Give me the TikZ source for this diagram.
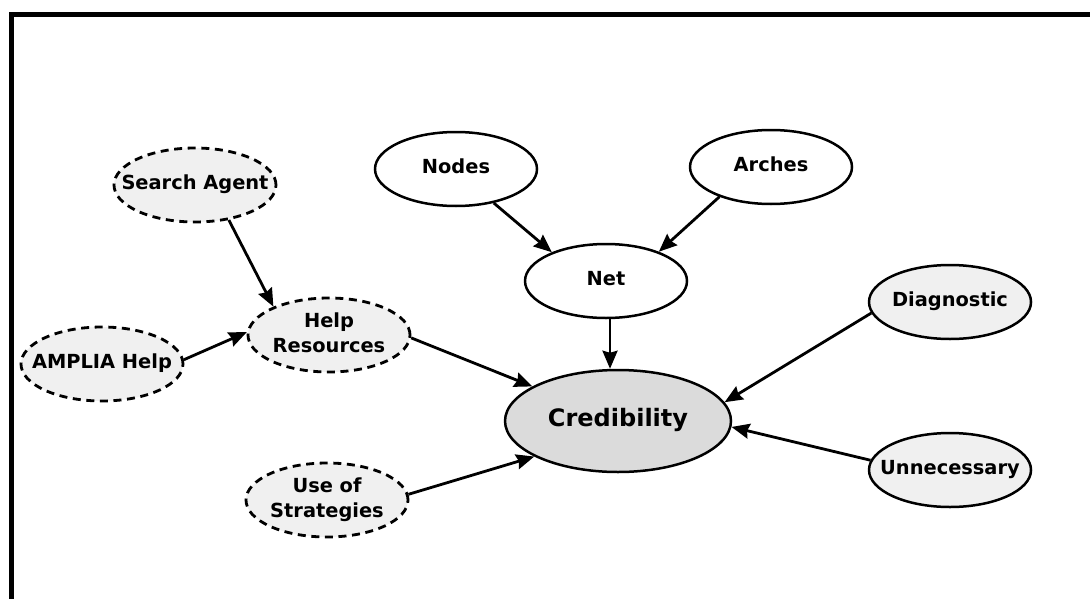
\documentclass[tikz,border=0pt]{standalone}
\usepackage{fontspec}
\setmainfont{DejaVu Sans}
\usetikzlibrary{shapes.geometric,arrows.meta}
\definecolor{lightfill}{gray}{0.94}
\definecolor{credfill}{gray}{0.86}
% text that does not widen its ellipse
\newcommand{\cpt}[1]{\makebox[0pt]{\begin{tabular}{@{}c@{}}#1\end{tabular}}}

\begin{document}
\begin{tikzpicture}[x=0.5pt,y=-0.5pt,
	concept/.style = {ellipse, draw, line width=1.25pt, inner sep=0pt, minimum width=81pt, minimum height=37pt, font=\bfseries\fontsize{9.7}{12.3}\selectfont},
	helper/.style = {concept, fill=lightfill, line width=1.4pt, dash pattern=on 4pt off 2.8pt},
	link/.style = {line width=1.4pt, -{Stealth[length=9pt,width=7.5pt,inset=1pt]}}]
	\useasboundingbox (0,0) rectangle (1090,599);
	\draw[line width=2.5pt] (1090,14.5) -- (11.5,14.5) -- (11.5,599);
	% net part
	\node[concept] (nodes) at (456,169) {\cpt{Nodes}};
	\node[concept] (arches) at (771,167) {\cpt{Arches}};
	\node[concept] (net) at (606,281) {\cpt{Net}};
	\node[concept, fill=credfill, minimum width=113pt, minimum height=51pt, font=\bfseries\fontsize{12}{14}\selectfont] (cred) at (618,421) {\cpt{Credibility}};
	% help part
	\node[helper] (agent) at (195,185) {\cpt{Search Agent}};
	\node[helper] (amplia) at (102,364) {\cpt{AMPLIA Help}};
	\node[helper] (help) at (329,335) {\cpt{Help\\Resources}};
	\node[helper] (strat) at (327,500) {\cpt{Use of\\Strategies}};
	% right side
	\node[concept, fill=lightfill] (diag) at (950,302) {\cpt{Diagnostic}};
	\node[concept, fill=lightfill] (unnec) at (950,470) {\cpt{Unnecessary}};
	\draw[link] (nodes.-42) -- (net.152);
	\draw[link] (arches.210) -- (net.29);
	\draw[link] (net.-84) -- (net.-84 |- cred.north);
	\draw[link] (agent.-46) -- (help.153);
	\draw[link] (amplia.3) -- (help.178);
	\draw[link] (help.-2) -- (cred.158);
	\draw[link] (strat.4) -- (cred.203);
	\draw[link] (diag.188) -- (cred.10);
	\draw[link] (unnec.173) -- (cred.-3);
\end{tikzpicture}
\end{document}
